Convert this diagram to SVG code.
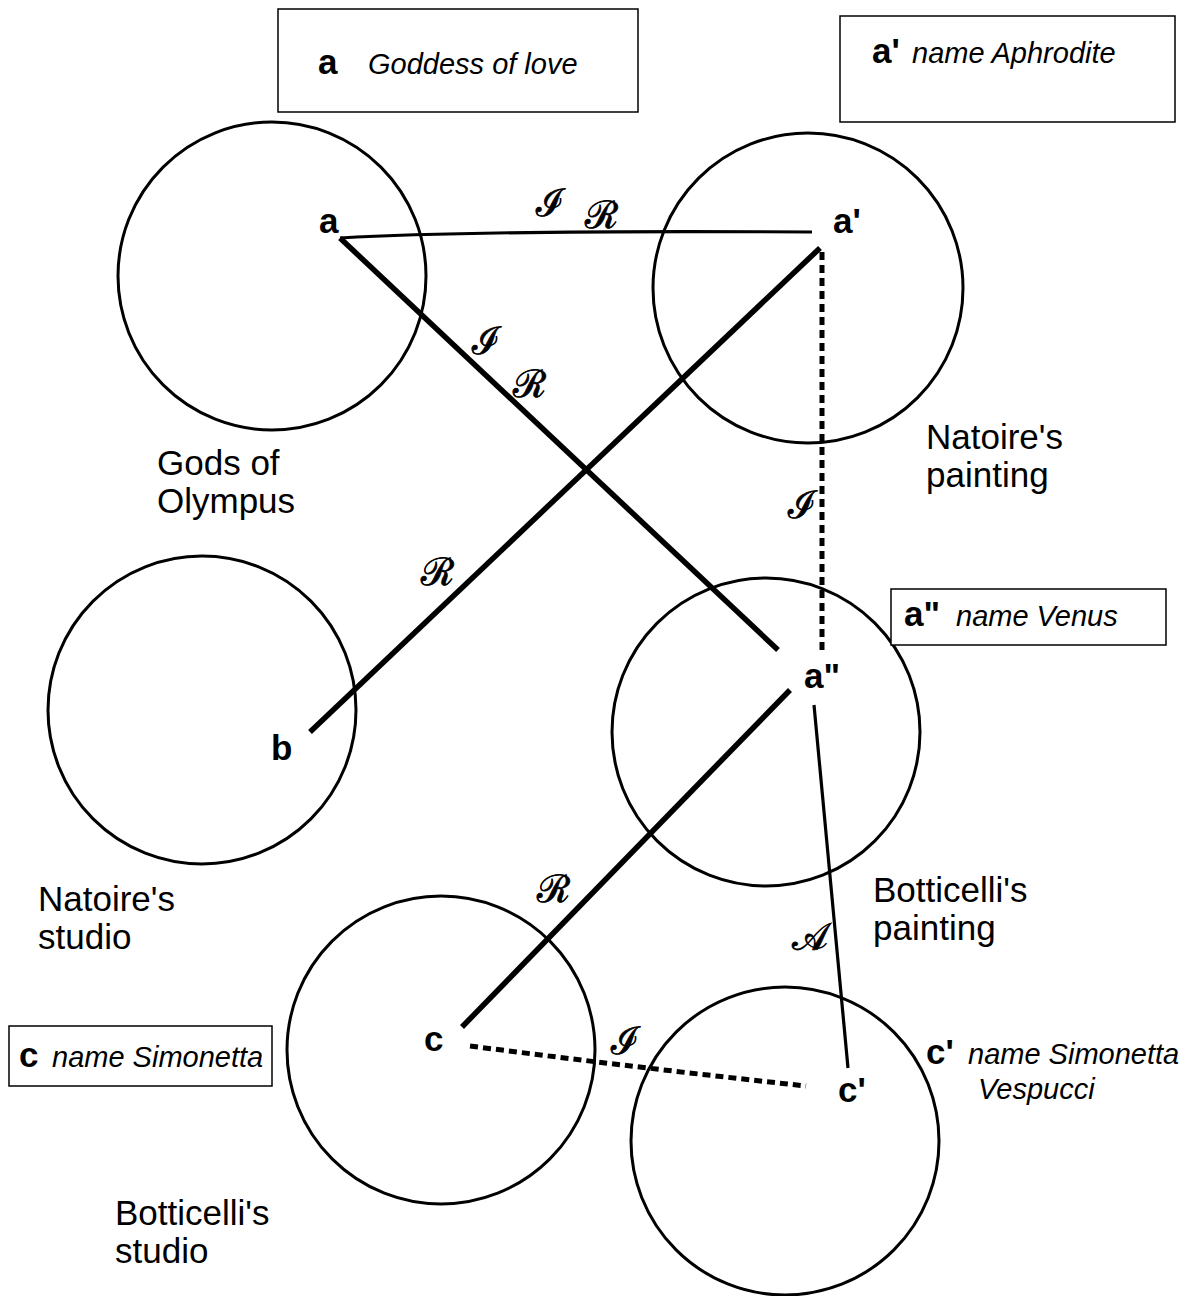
<svg xmlns="http://www.w3.org/2000/svg" width="1186" height="1296" viewBox="0 0 1186 1296">
<style>
.bg{fill:#fff}
.ring{fill:none;stroke:#000;stroke-width:3}
.box{fill:#fff;stroke:#000;stroke-width:1.5}
.thick{fill:none;stroke:#000;stroke-width:5.5;stroke-linecap:butt}
.thin{fill:none;stroke:#000;stroke-width:3.2}
.dot{fill:none;stroke:#000;stroke-width:5;stroke-dasharray:8 5}
.lbl{font-family:"Liberation Sans",Arial,sans-serif;font-size:35px;fill:#000}
.pt{font-family:"Liberation Sans",Arial,sans-serif;font-size:35px;font-weight:bold;fill:#000}
.it{font-family:"Liberation Sans",Arial,sans-serif;font-size:29px;font-style:italic;fill:#000}
.sc{font-family:"DejaVu Serif","Liberation Serif",serif;font-size:38px;fill:#000;stroke:#000;stroke-width:0.8}
</style>
<rect class="bg" x="0" y="0" width="1186" height="1296"/>
<g id="connectors">
<path class="thin" d="M340,238 Q480,230 812,232"/>
<line class="thick" x1="340" y1="238" x2="778" y2="650"/>
<line class="thick" x1="820" y1="248" x2="310" y2="732"/>
<line class="dot" x1="822" y1="252" x2="822" y2="650"/>
<line class="thick" x1="790" y1="690" x2="462" y2="1027"/>
<line class="thin" x1="814" y1="705" x2="848" y2="1068"/>
<path class="dot" d="M470,1046 Q640,1068 806,1086"/>
<text class="sc" x="536" y="216">ℐ</text>
<text class="sc" x="585" y="228">ℛ</text>
<text class="sc" x="472" y="354">ℐ</text>
<text class="sc" x="513" y="397">ℛ</text>
<text class="sc" x="421" y="585">ℛ</text>
<text class="sc" x="788" y="518">ℐ</text>
<text class="sc" x="537" y="902">ℛ</text>
<text class="sc" x="792" y="950">𝒜</text>
<text class="sc" x="611" y="1054">ℐ</text>
</g>
<g id="gods-of-olympus">
<circle class="ring" cx="272" cy="276" r="154"/>
<text class="pt" x="319" y="233">a</text>
<text class="lbl" x="157" y="475">Gods of</text>
<text class="lbl" x="157" y="513">Olympus</text>
</g>
<g id="natoires-painting">
<circle class="ring" cx="808" cy="288" r="155"/>
<text class="pt" x="833" y="233">a'</text>
<text class="lbl" x="926" y="449">Natoire's</text>
<text class="lbl" x="926" y="487">painting</text>
</g>
<g id="natoires-studio">
<circle class="ring" cx="202" cy="710" r="154"/>
<text class="pt" x="271" y="760">b</text>
<text class="lbl" x="38" y="911">Natoire's</text>
<text class="lbl" x="38" y="949">studio</text>
</g>
<g id="botticellis-painting">
<circle class="ring" cx="766" cy="732" r="154"/>
<text class="pt" x="804" y="688">a"</text>
<text class="lbl" x="873" y="902">Botticelli's</text>
<text class="lbl" x="873" y="940">painting</text>
</g>
<g id="botticellis-studio">
<circle class="ring" cx="441" cy="1050" r="154"/>
<text class="pt" x="424" y="1051">c</text>
<text class="lbl" x="115" y="1225">Botticelli's</text>
<text class="lbl" x="115" y="1263">studio</text>
</g>
<g id="botticellis-painting-c">
<circle class="ring" cx="785" cy="1141" r="154"/>
<text class="pt" x="838" y="1102">c'</text>
</g>
<g id="box-a">
<rect class="box" x="278" y="9" width="360" height="103"/>
<text class="pt" x="318" y="74">a</text>
<text class="it" x="368" y="74">Goddess of love</text>
</g>
<g id="box-a1">
<rect class="box" x="840" y="16" width="335" height="106"/>
<text class="pt" x="872" y="63">a'</text>
<text class="it" x="912" y="63">name Aphrodite</text>
</g>
<g id="box-a2">
<rect class="box" x="891" y="589" width="275" height="56"/>
<text class="pt" x="904" y="626">a"</text>
<text class="it" x="956" y="626">name Venus</text>
</g>
<g id="box-c">
<rect class="box" x="9" y="1026" width="263" height="60"/>
<text class="pt" x="19" y="1067">c</text>
<text class="it" x="52" y="1067">name Simonetta</text>
</g>
<g id="label-c1">
<text class="pt" x="926" y="1064">c'</text>
<text class="it" x="968" y="1064">name Simonetta</text>
<text class="it" x="978" y="1099">Vespucci</text>
</g>
</svg>
